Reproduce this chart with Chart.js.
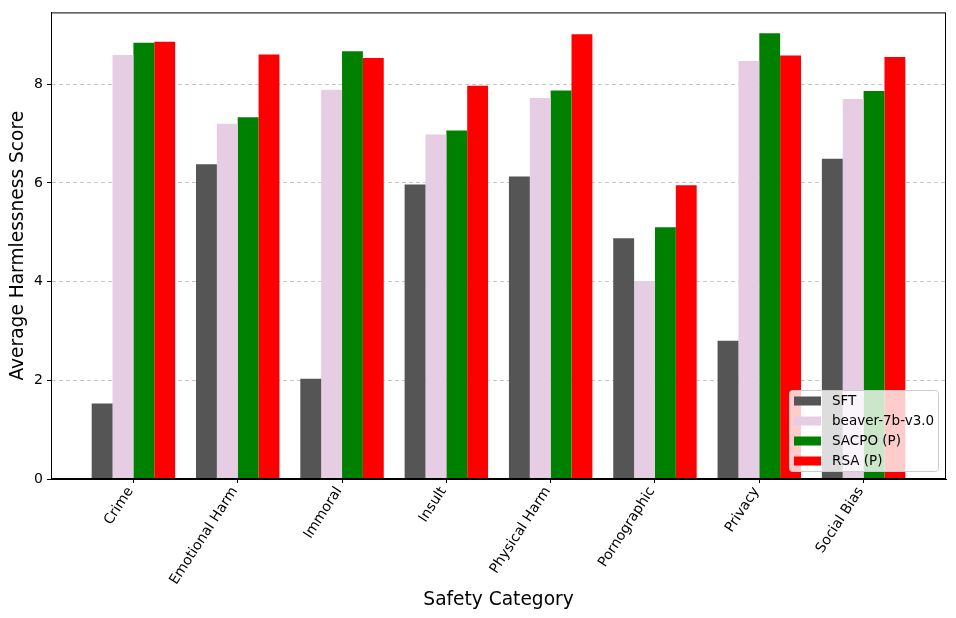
<!DOCTYPE html>
<html>
<head>
<meta charset="utf-8">
<script src="https://cdn.jsdelivr.net/npm/chart.js@4.4.1/dist/chart.umd.min.js"></script>
<style>
  html, body { margin: 0; padding: 0; background: #fff; }
  #wrap { width: 956px; height: 618px; }
</style>
</head>
<body>
<div id="wrap"><canvas id="chart"></canvas></div>
<script>
// Dados
const categories = ['Crime', 'Emotional Harm', 'Immoral', 'Insult', 'Physical Harm', 'Pornographic', 'Privacy', 'Social Bias'];
const seriesNames = ['SFT', 'beaver-7b-v3.0', 'SACPO (P)', 'RSA (P)'];
const sftScores = [1.53, 6.38, 2.03, 5.97, 6.13, 4.88, 2.80, 6.49];
const beaverScores = [8.59, 7.20, 7.89, 6.98, 7.72, 4.01, 8.47, 7.70];
const sacpoScores = [8.84, 7.33, 8.67, 7.06, 7.87, 5.10, 9.03, 7.86];
const rsaScores = [8.86, 8.60, 8.53, 7.97, 9.01, 5.95, 8.58, 8.55];
const yTicks = [0, 2, 4, 6, 8];

const colors = ['#555555', '#e7cde3', '#008000', '#ff0000'];
const allSeries = [sftScores, beaverScores, sacpoScores, rsaScores];

// Moldura em volta da área do gráfico
const framePlugin = {
  id: 'frame',
  afterDraw(chart) {
    const { ctx, chartArea: a } = chart;
    ctx.save();
    ctx.strokeStyle = '#000';
    ctx.lineWidth = 1;
    ctx.strokeRect(a.left + 0.5, a.top + 0.5, a.right - a.left - 1, a.bottom - a.top - 1);
    ctx.restore();
  }
};

// Legenda dentro do gráfico, canto inferior direito
const insideLegend = {
  id: 'insideLegend',
  afterDraw(chart) {
    const { ctx, chartArea: a } = chart;
    const x = a.right - 157, y = a.bottom - 89, w = 149, h = 81;
    ctx.save();
    ctx.fillStyle = 'rgba(255,255,255,0.8)';
    ctx.strokeStyle = '#cccccc';
    ctx.lineWidth = 1;
    ctx.beginPath();
    ctx.roundRect(x + 0.5, y + 0.5, w, h, 3);
    ctx.fill();
    ctx.stroke();
    ctx.font = '13.5px "DejaVu Sans"';
    ctx.textBaseline = 'middle';
    chart.data.datasets.forEach((ds, i) => {
      const ry = y + 11 + i * 20;
      ctx.fillStyle = ds.backgroundColor;
      ctx.fillRect(x + 5, ry - 4.5, 27, 9);
      ctx.fillStyle = '#000';
      ctx.fillText(ds.label, x + 43, ry);
    });
    ctx.restore();
  }
};

new Chart(document.getElementById('chart'), {
  type: 'bar',
  data: {
    datasets: seriesNames.map((name, s) => ({
      label: name,
      data: allSeries[s].map((v, i) => ({ x: i, y: v })),
      backgroundColor: colors[s],
      borderWidth: 0,
      barPercentage: 1.0,
      categoryPercentage: 0.8
    }))
  },
  options: {
    responsive: true,
    maintainAspectRatio: false,
    animation: false,
    layout: { padding: { top: 10, right: 10, left: 0, bottom: 0 } },
    plugins: {
      legend: { display: false },
      tooltip: { enabled: false }
    },
    scales: {
      x: {
        type: 'linear',
        min: -0.79,
        max: 7.79,
        offset: false,
        afterBuildTicks: axis => { axis.ticks = categories.map((c, i) => ({ value: i })); },
        afterFit: scale => { scale.height = 139; },
        ticks: {
          callback: value => categories[value],
          minRotation: 57,
          maxRotation: 57,
          autoSkip: false,
          color: '#000',
          font: { family: 'DejaVu Sans', size: 14 },
          padding: 1,
          labelOffset: -3
        },
        grid: { offset: false, drawOnChartArea: false, drawTicks: true, tickLength: 4, color: '#000' },
        border: { color: '#000' },
        title: {
          display: true,
          text: 'Safety Category',
          color: '#000',
          font: { family: 'DejaVu Sans', size: 18.6 },
          padding: { top: 0, bottom: 7 }
        }
      },
      y: {
        min: 0,
        max: 9.455,
        z: 1,
        afterBuildTicks: axis => { axis.ticks = yTicks.map(v => ({ value: v })); },
        afterFit: scale => { scale.width = 51; },
        ticks: {
          color: '#000',
          font: { family: 'DejaVu Sans', size: 14 },
          padding: 4
        },
        grid: {
          color: 'rgba(176,176,176,0.7)',
          tickColor: '#000',
          tickLength: 4,
          tickBorderDash: [],
          drawTicks: true
        },
        border: { color: '#000', dash: [4, 3] },
        title: {
          display: true,
          text: 'Average Harmlessness Score',
          color: '#000',
          font: { family: 'DejaVu Sans', size: 18.6 },
          padding: { top: 7, bottom: 4 }
        }
      }
    }
  },
  plugins: [framePlugin, insideLegend]
});
</script>
</body>
</html>
